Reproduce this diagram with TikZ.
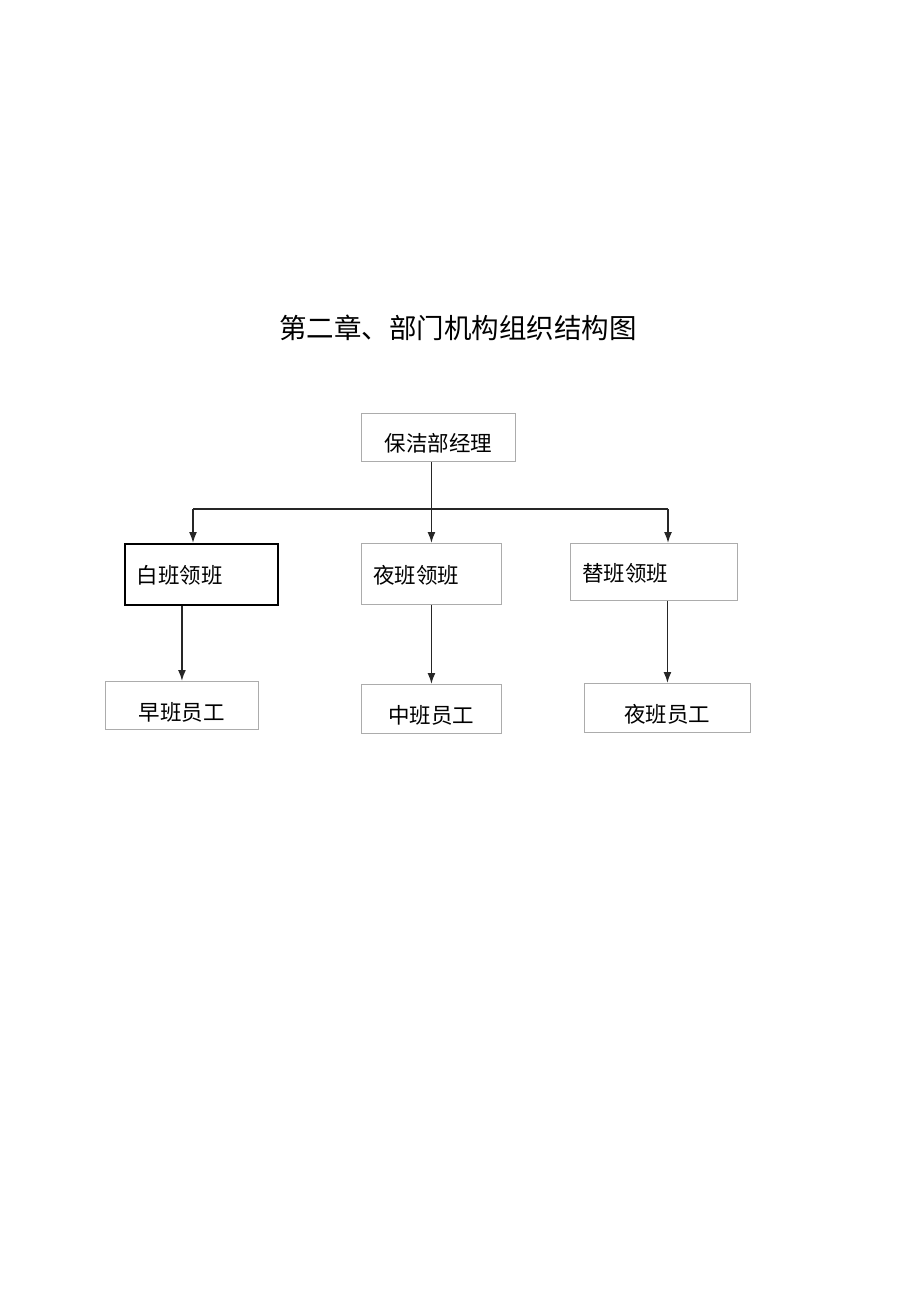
\documentclass[tikz,border=0pt]{standalone}
\usepackage{fontspec}
\newfontfamily\cjk{Noto Sans CJK SC}
\usetikzlibrary{arrows.meta}
\tikzset{
  box/.style={draw=gray!65, line width=0.9pt, rectangle, inner sep=0pt, anchor=north west},
  lead/.style={box, align=left, inner xsep=12pt, text height=19pt, text depth=0pt},
  staff/.style={box, align=center, text height=30pt, text depth=0pt},
  txt/.style={font=\cjk\fontsize{21.5}{24}\selectfont},
  link/.style={line width=1.6pt, black!85}
}
\begin{document}
\begin{tikzpicture}[x=1pt, y=-1pt, >={Latex[length=11pt,width=8pt]}]
\useasboundingbox (0,0) rectangle (920,1301);
\node [font=\cjk\fontsize{27.5}{30}\selectfont] (T) at (458,328) {第二章、部门机构组织结构图};
% manager
\node [box, txt, text height=28pt, text depth=0pt, minimum width=154, minimum height=48] (M) at (361,413) {保洁部经理};
% shift leaders
\node [lead, txt, draw=black, line width=1.6pt, text width=129, minimum height=61] (L1) at (124,543) {白班领班};
\node [lead, txt, text width=116, minimum height=61] (L2) at (361,543) {夜班领班};
\node [lead, txt, text width=143, minimum height=57] (L3) at (570,543) {替班领班};
% staff
\node [staff, txt, minimum width=153, minimum height=48] (S1) at (105,681) {早班员工};
\node [staff, txt, minimum width=140, minimum height=49] (S2) at (361,684) {中班员工};
\node [staff, txt, minimum width=166, minimum height=49] (S3) at (584,683) {夜班员工};
\coordinate (J1) at (193,509);
\coordinate (J3) at (668,509);
\draw [link] (J1) -- (J3);
\draw [link,->] (L2.north |- M.south) -- (L2.north);
\draw [link,->] (J1) -- (J1 |- L1.north);
\draw [link,->] (J3) -- (J3 |- L3.north);
\draw [link,->] (S1.north |- L1.south) -- (S1.north);
\draw [link,->] (S2.north |- L2.south) -- (S2.north);
\draw [link,->] (S3.north |- L3.south) -- (S3.north);
\end{tikzpicture}
\end{document}
